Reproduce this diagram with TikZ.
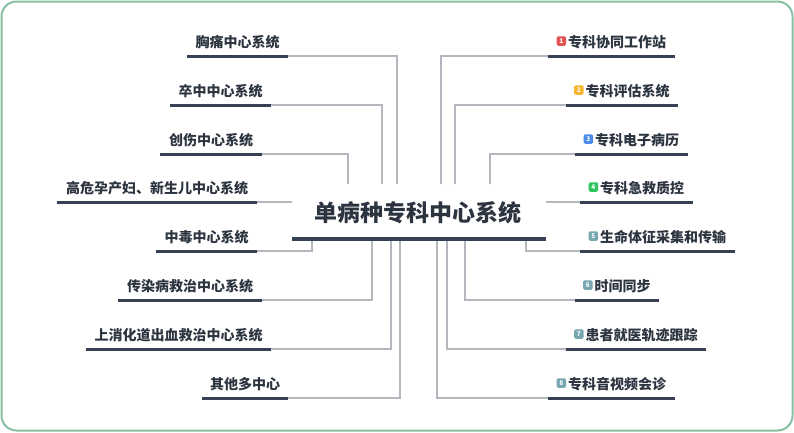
\documentclass[tikz,border=0pt]{standalone}
\usepackage{fontspec}
\setmainfont{Noto Sans CJK SC}
\usetikzlibrary{calc}
\definecolor{frm}{HTML}{86BFA2}
\definecolor{ul}{HTML}{364153}
\definecolor{cn}{HTML}{B4B8BE}
\definecolor{txt}{HTML}{2C3440}
\definecolor{bred}{HTML}{E25452}
\definecolor{borg}{HTML}{F6B52A}
\definecolor{bblu}{HTML}{4A8CEB}
\definecolor{bgrn}{HTML}{2DC65E}
\definecolor{btea}{HTML}{76A6AE}
\newcommand\branch[5]{%
  \coordinate (#1a) at (#2,#4);
  \coordinate (#1b) at (#3,#4);
  \node[lbl] (#1) at ({(#2+#3)/2},#4-9) {#5};
}
\newcommand\bbranch[7]{%
  \coordinate (#1a) at (#2,#4);
  \coordinate (#1b) at (#3,#4);
  \node[lbl] (#1) at ({(#2+#3)/2+5.5},#4-9) {#5};
  \node[badge=#6, anchor=east] (#1k) at ([xshift=-1.5pt,yshift=6pt]#1.base west) {#7};
}
\begin{document}
\begin{tikzpicture}[x=1pt,y=-1pt,
  lbl/.style={font=\bfseries\fontsize{14}{14}\selectfont, text=txt, inner sep=0pt, anchor=base},
  uline/.style={line width=3pt, draw=ul},
  conn/.style={line width=1.3pt, draw=cn},
  badge/.style={fill=#1, rounded corners=1.5pt, minimum size=9.5pt, inner sep=0pt, text=white, font=\fontsize{6.5}{6.5}\selectfont\bfseries},
  frame/.style={draw=frm, line width=2pt, rounded corners=15pt}]
\useasboundingbox (0,0) rectangle (794,432);
\draw[frame] (1.5,1.5) rectangle (792.5,430.5);

% root
\node[font=\bfseries\fontsize{23}{23}\selectfont, text=txt, inner sep=0pt, anchor=base] (root) at (418,221.5) {单病种专科中心系统};
\coordinate (rootl) at (292,239);
\coordinate (rootr) at (546,239);

% left branches
\branch{l1}{187}{288}{56}{胸痛中心系统}
\branch{l2}{170}{271}{105}{卒中中心系统}
\branch{l3}{160}{262}{154}{创伤中心系统}
\branch{l4}{57}{257}{202}{高危孕产妇、新生儿中心系统}
\branch{l5}{156}{257}{251}{中毒中心系统}
\branch{l6}{118}{262}{300}{传染病救治中心系统}
\branch{l7}{86}{271}{349}{上消化道出血救治中心系统}
\branch{l8}{202}{288}{398}{其他多中心}

% right branches
\bbranch{r1}{548}{675}{56}{专科协同工作站}{bred}{1}
\bbranch{r2}{566}{678}{105}{专科评估系统}{borg}{2}
\bbranch{r3}{575}{688}{154}{专科电子病历}{bblu}{3}
\bbranch{r4}{580}{693}{202}{专科急救质控}{bgrn}{4}
\bbranch{r5}{580}{735}{251}{生命体征采集和传输}{btea}{5}
\bbranch{r6}{575}{659}{300}{时间同步}{btea}{6}
\bbranch{r7}{566}{706}{349}{患者就医轨迹跟踪}{btea}{7}
\bbranch{r8}{548}{675}{398}{专科音视频会诊}{btea}{8}

% connector ends at root
\coordinate (cl1) at (397,184);
\coordinate (cl2) at (382,184);
\coordinate (cl3) at (348,184);
\coordinate (cl4) at (292,202);
\coordinate (cl5) at (312,239);
\coordinate (cl6) at (372,239);
\coordinate (cl7) at (391,239);
\coordinate (cl8) at (400,239);
\coordinate (cr1) at (441,184);
\coordinate (cr2) at (455,184);
\coordinate (cr3) at (490,184);
\coordinate (cr4) at (546,202);
\coordinate (cr5) at (526,239);
\coordinate (cr6) at (465,239);
\coordinate (cr7) at (447,239);
\coordinate (cr8) at (437,239);

\foreach \i in {1,2,3,5,6,7,8}{
  \draw[conn] (l\i b) -| (cl\i);
  \draw[conn] (cr\i) |- (r\i a);
}
\draw[conn] (l4b) -- (cl4);
\draw[conn] (cr4) -- (r4a);

% underlines
\foreach \i in {1,...,8}{
  \draw[uline] (l\i a) -- (l\i b);
  \draw[uline] (r\i a) -- (r\i b);
}
\draw[line width=3.5pt, draw=ul] (rootl) -- (rootr);
\end{tikzpicture}
\end{document}
